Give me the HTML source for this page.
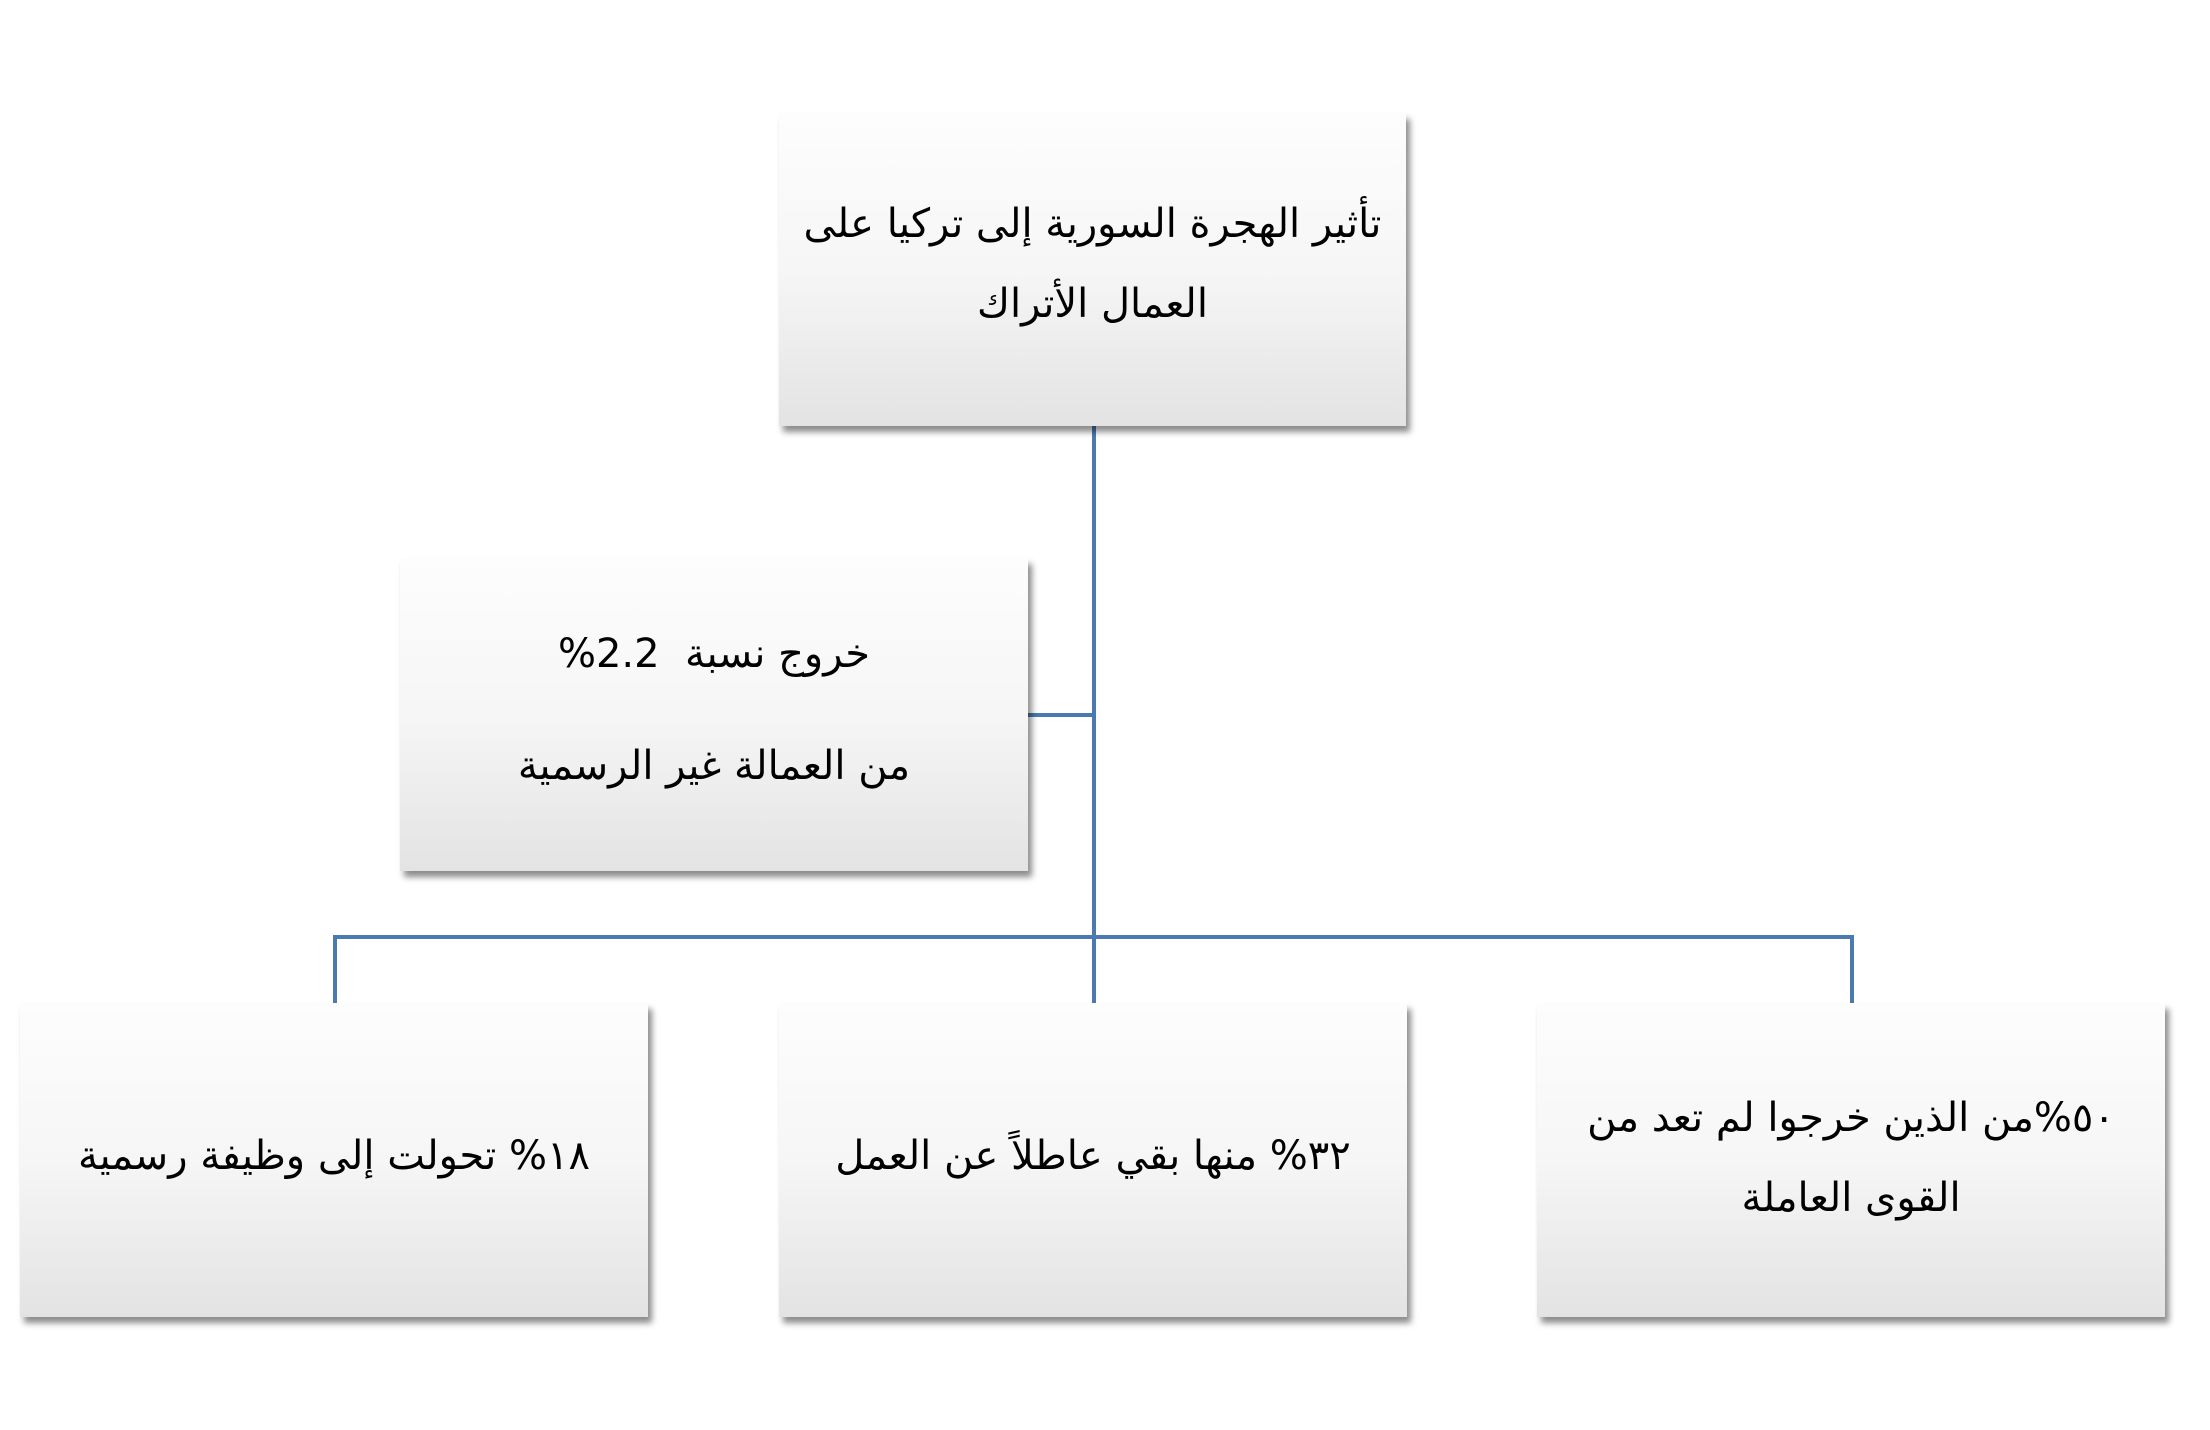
<!DOCTYPE html>
<html><head><meta charset="utf-8"><style>
body{margin:0;width:2210px;height:1430px;background:#fff;position:relative;overflow:hidden;font-family:"DejaVu Sans",sans-serif;}
.b{position:absolute;background:linear-gradient(#fdfdfd 0%,#f6f6f6 50%,#e3e3e3 100%);box-shadow:4px 6px 6px rgba(0,0,0,0.45);direction:rtl;text-align:center;color:#000;font-size:40px;}
.b div{position:absolute;left:0;right:0;white-space:nowrap;}
.l{position:absolute;background:#4a7ab0;}
</style></head><body>
<div class="l" style="left:1092px;top:425px;width:4px;height:580px"></div>
<div class="l" style="left:1028px;top:713px;width:66px;height:4px"></div>
<div class="l" style="left:333px;top:935px;width:1521px;height:4px"></div>
<div class="l" style="left:333px;top:935px;width:4px;height:70px"></div>
<div class="l" style="left:1850px;top:935px;width:4px;height:70px"></div>

<div class="b" style="left:779px;top:113px;width:627px;height:313px">
<div style="top:88px">تأثير الهجرة السورية إلى تركيا على</div>
<div style="top:168px">العمال الأتراك</div></div>

<div class="b" style="left:400px;top:558px;width:628px;height:313px">
<div style="top:73px">خروج نسبة &nbsp;2.2%</div>
<div style="top:185px">من العمالة غير الرسمية</div></div>

<div class="b" style="left:20px;top:1003px;width:628px;height:314px">
<div style="top:130px">١٨% تحولت إلى وظيفة رسمية</div></div>

<div class="b" style="left:779px;top:1003px;width:628px;height:314px">
<div style="top:130px">٣٢% منها بقي عاطلاً عن العمل</div></div>

<div class="b" style="left:1537px;top:1003px;width:628px;height:314px">
<div style="top:92px">٥٠%من الذين خرجوا لم تعد من</div>
<div style="top:172px">القوى العاملة</div></div>
</body></html>
